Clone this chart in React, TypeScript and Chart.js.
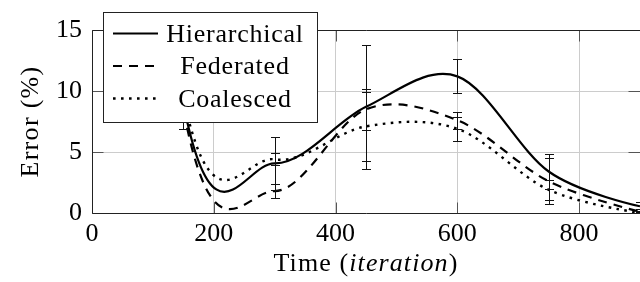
import React, { useEffect, useRef } from 'react';
import { Chart, registerables } from 'chart.js';

Chart.register(...registerables);

// ---- data ----
const iterations = [0, 150, 300, 450, 600, 750, 900];
const hierarchical = [81, 9.0, 4.07, 8.7, 11.2, 3.4, 0.55];
const federated = [80, 8.5, 1.8, 8.5, 7.6, 2.6, 0.1];
const coalesced = [75, 9.5, 4.4, 7.1, 6.9, 1.9, 0.0];
const hierarchicalErr = [0, 2.1, 2.15, 5.1, 1.4, 1.4, 0.35];
const federatedErr = [0, 0.8, 0.6, 1.7, 0.7, 1.9, 0.2];
const coalescedErr = [0, 1.5, 0.5, 2.8, 1.0, 0.8, 0.1];
const seriesNames = ['Hierarchical', 'Federated', 'Coalesced'];
const xTicks = [0, 200, 400, 600, 800];
const yTicks = [0, 5, 10, 15];
const xTitleParts = ['Time (', 'iteration', ')'];
const yTitle = 'Error (%)';

const allSeries = [hierarchical, federated, coalesced];
const allErrors = [hierarchicalErr, federatedErr, coalescedErr];
const dashes: number[][] = [[], [9, 7], [2.6, 5.4]];
const widths = [2.2, 2.2, 2.4];

const FONT = 'Liberation Serif';

// TikZ-like "smooth" control points
const smoothPlugin = {
  id: 'tikzSmooth',
  beforeDatasetDraw(chart: any, args: any) {
    const meta = args.meta;
    if (!meta || !meta.dataset) return;
    meta.dataset.updateControlPoints(chart.chartArea, 'x');
    const pts = meta.data;
    const k = 0.165;
    for (let i = 0; i < pts.length; i++) {
      const p = pts[i];
      const prev = pts[i - 1];
      const next = pts[i + 1];
      if (!prev || !next) {
        p.cp1x = p.x; p.cp1y = p.y; p.cp2x = p.x; p.cp2y = p.y;
        if (!prev && next) {
          p.cp2x = p.x + k * (next.x - p.x);
          p.cp2y = p.y + k * (next.y - p.y);
        }
        continue;
      }
      const dx = next.x - prev.x;
      const dy = next.y - prev.y;
      p.cp1x = p.x - k * dx;
      p.cp1y = p.y - k * dy;
      p.cp2x = p.x + k * dx;
      p.cp2y = p.y + k * dy;
    }
  },
};

const errorBarPlugin = {
  id: 'errorBars',
  afterDatasetsDraw(chart: any) {
    const { ctx, chartArea: a } = chart;
    const xs = chart.scales.x;
    const ys = chart.scales.y;
    ctx.save();
    ctx.beginPath();
    ctx.rect(a.left, a.top, a.right - a.left, a.bottom - a.top);
    ctx.clip();
    ctx.strokeStyle = '#111';
    ctx.lineWidth = 1;
    allErrors.forEach((errs, di) => {
      const vals = allSeries[di];
      iterations.forEach((it, j) => {
        const e = errs[j];
        if (!e) return;
        const px = Math.round(xs.getPixelForValue(it)) + 0.5;
        const y1 = Math.round(ys.getPixelForValue(vals[j] - e)) + 0.5;
        const y2 = Math.round(ys.getPixelForValue(vals[j] + e)) + 0.5;
        ctx.beginPath();
        ctx.moveTo(px, y1); ctx.lineTo(px, y2);
        ctx.moveTo(px - 4.5, y1); ctx.lineTo(px + 4.5, y1);
        ctx.moveTo(px - 4.5, y2); ctx.lineTo(px + 4.5, y2);
        ctx.stroke();
      });
    });
    ctx.restore();
  },
};

const framePlugin = {
  id: 'frame',
  afterDatasetsDraw(chart: any) {
    const { ctx, chartArea: a } = chart;
    const xs = chart.scales.x;
    const ys = chart.scales.y;
    const L = Math.round(a.left) + 0.5;
    const R = Math.round(a.right) - 0.5;
    const T = Math.round(a.top) + 0.5;
    const B = Math.round(a.bottom) + 0.5;
    ctx.save();
    ctx.strokeStyle = '#555';
    ctx.lineWidth = 1;
    const tl = 11;
    ctx.beginPath();
    xTicks.forEach((v) => {
      const px = Math.round(xs.getPixelForValue(v)) + 0.5;
      ctx.moveTo(px, B); ctx.lineTo(px, B - tl);
      ctx.moveTo(px, T); ctx.lineTo(px, T + tl);
    });
    yTicks.forEach((v) => {
      const py = Math.round(ys.getPixelForValue(v)) + 0.5;
      ctx.moveTo(L, py); ctx.lineTo(L + tl, py);
      ctx.moveTo(R + 1, py); ctx.lineTo(R - tl, py);
    });
    ctx.stroke();
    ctx.strokeStyle = '#222';
    ctx.beginPath();
    ctx.moveTo(R + 1, T); ctx.lineTo(L, T); ctx.lineTo(L, B); ctx.lineTo(R + 1, B);
    ctx.stroke();
    ctx.restore();
  },
};

const titlePlugin = {
  id: 'titles',
  afterDraw(chart: any) {
    const { ctx } = chart;
    ctx.save();
    ctx.fillStyle = '#000';
    ctx.textBaseline = 'alphabetic';
    (ctx as any).letterSpacing = '1.1px';
    const fonts = [`26px "${FONT}"`, `italic 26px "${FONT}"`, `26px "${FONT}"`];
    const ws = xTitleParts.map((t, i) => { ctx.font = fonts[i]; return ctx.measureText(t).width; });
    const total = ws.reduce((s, w) => s + w, 0);
    const a = chart.chartArea;
    let x = (a.left + a.right) / 2 - total / 2;
    xTitleParts.forEach((t, i) => {
      ctx.font = fonts[i];
      ctx.textAlign = 'left';
      ctx.fillText(t, x, 271);
      x += ws[i];
    });
    ctx.translate(38, (a.top + a.bottom) / 2);
    ctx.rotate(-Math.PI / 2);
    ctx.font = `26px "${FONT}"`;
    (ctx as any).letterSpacing = '1.3px';
    ctx.textAlign = 'center';
    ctx.fillText(yTitle, 0, 0);
    ctx.restore();
  },
};

const legendPlugin = {
  id: 'boxLegend',
  afterDraw(chart: any) {
    const { ctx } = chart;
    ctx.save();
    ctx.fillStyle = '#fff';
    ctx.fillRect(103.5, 12.5, 214, 110);
    ctx.strokeStyle = '#222';
    ctx.lineWidth = 1;
    ctx.strokeRect(103.5, 12.5, 214, 110);
    const lineYs = [33.5, 66, 98.5];
    const baseYs = [41.5, 74, 106.5];
    chart.data.datasets.forEach((ds: any, i: number) => {
      ctx.beginPath();
      ctx.strokeStyle = '#000';
      ctx.lineWidth = ds.borderWidth;
      ctx.setLineDash(ds.borderDash || []);
      ctx.lineCap = 'butt';
      ctx.moveTo(113, lineYs[i]);
      ctx.lineTo(158, lineYs[i]);
      ctx.stroke();
      ctx.setLineDash([]);
      ctx.fillStyle = '#000';
      ctx.font = `26px "${FONT}"`;
      (ctx as any).letterSpacing = '0.75px';
      ctx.textAlign = 'center';
      ctx.textBaseline = 'alphabetic';
      ctx.fillText(ds.label, 235, baseYs[i]);
    });
    ctx.restore();
  },
};

export default function App() {
  const ref = useRef<HTMLCanvasElement>(null);
  useEffect(() => {
    const canvas = ref.current;
    if (!canvas) return;
    const datasets = allSeries.map((ys, i) => ({
      label: seriesNames[i],
      data: iterations.map((x, j) => ({ x, y: ys[j] })),
      borderColor: '#000',
      backgroundColor: '#000',
      borderWidth: widths[i],
      borderDash: dashes[i],
      borderCapStyle: 'butt' as const,
      pointRadius: 0,
      tension: 0.4,
      fill: false,
      clip: 0,
    }));
    const tickFont = { family: FONT, size: 26 };
    const chart = new Chart(canvas, {
      type: 'line',
      data: { datasets },
      options: {
        animation: false,
        responsive: false,
        devicePixelRatio: 1,
        layout: { padding: { left: 0, right: 0, top: 30, bottom: 0 } },
        elements: { line: { capBezierPoints: false } },
        plugins: { legend: { display: false }, tooltip: { enabled: false } },
        scales: {
          x: {
            type: 'linear',
            min: 0,
            max: 900,
            afterFit: (s: any) => { s.height = 69; },
            afterBuildTicks: (s: any) => { s.ticks = xTicks.map((v) => ({ value: v })); },
            ticks: { font: tickFont, color: '#000', padding: 6, maxRotation: 0, autoSkip: false },
            grid: { color: '#cccccc', lineWidth: 1, drawTicks: false },
            border: { display: false },
          },
          y: {
            type: 'linear',
            min: 0,
            max: 15,
            afterFit: (s: any) => { s.width = 92; },
            afterBuildTicks: (s: any) => { s.ticks = yTicks.map((v) => ({ value: v })); },
            ticks: { font: tickFont, color: '#000', padding: 10 },
            grid: { color: '#cccccc', lineWidth: 1, drawTicks: false },
            border: { display: false },
          },
        },
      } as any,
      plugins: [smoothPlugin, errorBarPlugin, framePlugin, titlePlugin, legendPlugin],
    });
    return () => chart.destroy();
  }, []);
  return (
    <div style={{ position: 'absolute', left: 0, top: 0, width: 640, height: 282, background: '#fff' }}>
      <canvas ref={ref} width={640} height={282} style={{ display: 'block', width: 640, height: 282 }} />
    </div>
  );
}
